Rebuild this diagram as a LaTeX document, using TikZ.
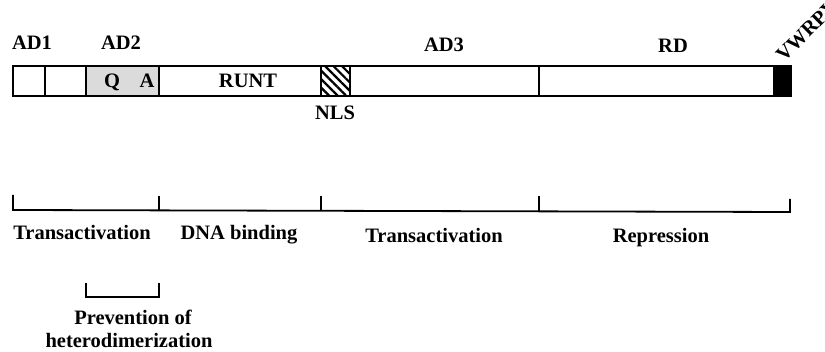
\documentclass[tikz,border=0pt]{standalone}
\usepackage{fontspec}
\setmainfont{Liberation Serif}
\usetikzlibrary{patterns.meta}
\begin{document}
\begin{tikzpicture}[x=1pt,y=-1pt,
  lbl/.style={font=\fontsize{20.5}{24}\selectfont\bfseries, inner sep=0pt, anchor=base},
  seg/.style={draw, line width=1.4pt},
  brk/.style={line width=1.8pt}]
\useasboundingbox (0,0) rectangle (825,352);

% protein bar
\fill[gray!28] (86,66) rectangle (159,95);
\fill[pattern={Lines[angle=-45,distance=6pt,line width=2.2pt]}] (321,66) rectangle (350,95);
\fill[black] (774,67) rectangle (791,97);
\draw[seg] (13,66) rectangle (791,96);
\foreach \x in {45,86,159,321,350,539,774} \draw[seg] (\x,66) -- (\x,96);

% labels on the bar
\node[lbl] (ad1) at (32,50) {AD1};
\node[lbl] (ad2) at (121,50) {AD2};
\node[lbl] (ad3) at (444,52) {AD3};
\node[lbl] (rd)  at (673,53) {RD};
\node[lbl] (q)   at (112,88) {Q};
\node[lbl] (a)   at (147,88) {A};
\node[lbl] (runt) at (248,88) {RUNT};
\node[lbl] (nls) at (335,120) {NLS};
\node[lbl, rotate=45, anchor=base west] (motif) at (784,63) {VWRPY};

% functional regions
\draw[brk] (13,195) -- (13,210) -- (790,212) -- (790,199);
\foreach \x in {159,321,539} \draw[brk] (\x,196) -- (\x,211);
\node[lbl] (ta1) at (82,240) {Transactivation};
\node[lbl] (dna) at (239,240) {DNA binding};
\node[lbl] (ta2) at (434,243) {Transactivation};
\node[lbl] (rep) at (661,243) {Repression};

\draw[brk] (86,283) -- (86,297) -- (159,297) -- (159,283);
\node[lbl] (prev) at (133,325) {Prevention of};
\node[lbl] (het) at (129,348) {heterodimerization};
\end{tikzpicture}
\end{document}
